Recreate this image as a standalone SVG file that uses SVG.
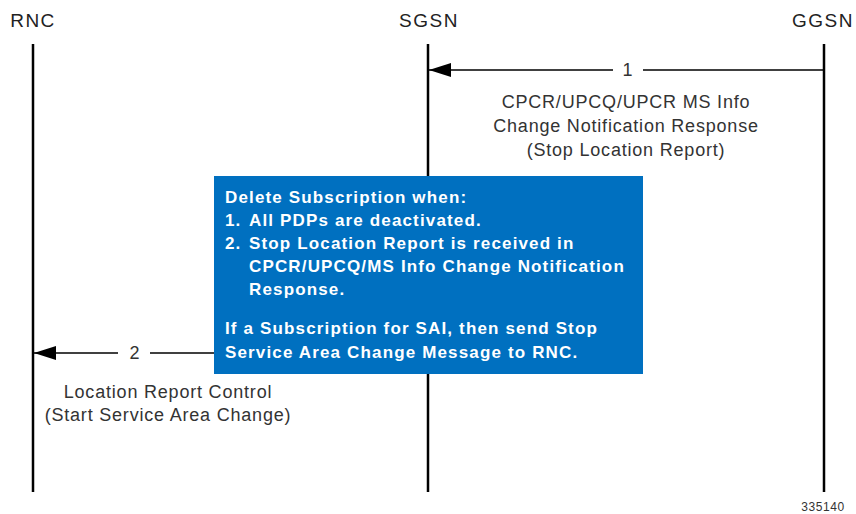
<svg xmlns="http://www.w3.org/2000/svg" width="856" height="514" viewBox="0 0 856 514">
<style>
.hdr{font-family:"Liberation Sans",Arial,sans-serif;font-size:19px;letter-spacing:1.5px;fill:#222;text-anchor:middle}
.lbl{font-family:"Liberation Sans",Arial,sans-serif;font-size:18px;letter-spacing:0.8px;fill:#333;text-anchor:middle}
.box{font-family:"Liberation Sans",Arial,sans-serif;font-size:17px;letter-spacing:1.15px;font-weight:bold;fill:#fff}
.life{stroke:#000;stroke-width:2.5}
.msg{stroke:#000;stroke-width:1.5;fill:none}
</style>
<defs>
<marker id="ah" markerWidth="22" markerHeight="14" refX="22" refY="7" orient="auto" markerUnits="userSpaceOnUse" viewBox="0 0 22 14">
<path d="M0,0 L22,7 L0,14 Z" fill="#000"/>
</marker>
</defs>
<rect width="856" height="514" fill="#fff"/>
<g id="rnc">
<text class="hdr" x="33" y="27">RNC</text>
<line class="life" x1="33" y1="44" x2="33" y2="492"/>
</g>
<g id="sgsn">
<text class="hdr" x="429" y="27">SGSN</text>
<line class="life" x1="428" y1="44" x2="428" y2="492"/>
</g>
<g id="ggsn">
<text class="hdr" x="823" y="27">GGSN</text>
<line class="life" x1="824" y1="44" x2="824" y2="492"/>
</g>
<g id="note">
<rect x="214" y="176" width="429" height="198" fill="#0070C0"/>
<text class="box" x="225" y="203">Delete Subscription when:</text>
<text class="box" x="225" y="226">1.</text>
<text class="box" x="249" y="226">All PDPs are deactivated.</text>
<text class="box" x="225" y="249">2.</text>
<text class="box" x="249" y="249">Stop Location Report is received in</text>
<text class="box" x="249" y="272">CPCR/UPCQ/MS Info Change Notification</text>
<text class="box" x="249" y="295">Response.</text>
<text class="box" x="225" y="334">If a Subscription for SAI, then send Stop</text>
<text class="box" x="225" y="358">Service Area Change Message to RNC.</text>
</g>
<g id="connectors">
<line class="msg" x1="824" y1="70" x2="643" y2="70"/>
<line class="msg" x1="613" y1="70" x2="429" y2="70" marker-end="url(#ah)"/>
<text class="lbl" x="628" y="76">1</text>
<text class="lbl" x="626" y="108">CPCR/UPCQ/UPCR MS Info</text>
<text class="lbl" x="626" y="132">Change Notification Response</text>
<text class="lbl" x="626" y="156">(Stop Location Report)</text>
<line class="msg" x1="214" y1="353" x2="150" y2="353"/>
<line class="msg" x1="118" y1="353" x2="34" y2="353" marker-end="url(#ah)"/>
<text class="lbl" x="135" y="359">2</text>
<text class="lbl" x="168" y="398">Location Report Control</text>
<text class="lbl" x="168" y="421">(Start Service Area Change)</text>
</g>
<text x="823" y="511" font-family="'Liberation Sans',Arial,sans-serif" font-size="12" letter-spacing="0.6" fill="#333" text-anchor="middle">335140</text>
</svg>
